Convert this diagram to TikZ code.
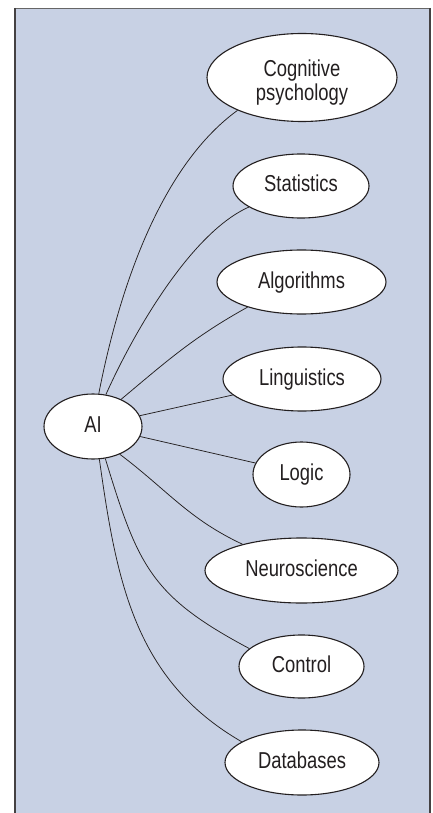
\documentclass[tikz,border=0pt]{standalone}
\usepackage{fontspec}
\setmainfont{Liberation Sans}[FakeStretch=0.8]
\usetikzlibrary{shapes.geometric}
\definecolor{panel}{RGB}{200,209,228}
\definecolor{ink}{RGB}{35,31,32}
\begin{document}
\begin{tikzpicture}[x=1pt,y=1pt,
  topic/.style={ellipse, draw=ink, line width=1.1pt, fill=white, inner sep=0pt,
    text=ink, font=\fontsize{23}{24}\selectfont, align=center},
  oneline/.style={text height=12pt, text depth=0pt},
  link/.style={draw=ink, line width=0.75pt}]
\useasboundingbox (0,0) rectangle (433,-813);
% panel
\fill[panel] (15,-8) rectangle (430,-813);
\draw[gray!80!black, line width=0.8pt] (15,-8) -- (430,-8);
\draw[ink!85, line width=1.6pt] (15,-8) -- (15,-813);
\draw[ink!85, line width=1.1pt] (430,-8) -- (430,-813);
% nodes
\node[topic, minimum width=190pt, minimum height=88pt] (cog) at (302,-77.5) {\rule{0pt}{26.7pt}Cognitive\\psychology};
\node[topic, oneline, minimum width=136pt, minimum height=64pt] (stat) at (301,-186) {Statistics};
\node[topic, oneline, minimum width=169pt, minimum height=64pt] (alg) at (301.5,-282) {Algorithms};
\node[topic, oneline, minimum width=158pt, minimum height=64pt] (ling) at (302,-379) {Linguistics};
\node[topic, oneline, minimum width=97pt, minimum height=65pt] (logic) at (301.5,-474.5) {Logic};
\node[topic, oneline, minimum width=193pt, minimum height=65pt] (neuro) at (301.5,-570.5) {Neuroscience};
\node[topic, oneline, minimum width=125pt, minimum height=63pt] (ctrl) at (301.5,-666.5) {Control};
\node[topic, oneline, minimum width=154pt, minimum height=65pt] (db) at (302,-762.5) {Databases};
\node[topic, oneline, minimum width=98pt, minimum height=65pt] (ai) at (93,-426.5) {AI};
% connectors
\draw[link] (ai.80) to[out=79, in=216, looseness=0.8] (cog.207);
\draw[link] (ai.68) to[out=66, in=204, looseness=0.7] (stat.202);
\draw[link] (ai.44) to[out=40, in=209] (alg.205);
\draw[link] (ai.13) -- (ling.193);
\draw[link] (ai.348) -- (logic.166);
\draw[link] (ai.314) to[out=-37, in=155] (neuro.156);
\draw[link] (ai.291) to[out=-73, in=152, looseness=1.2] (ctrl.161);
\draw[link] (ai.281) to[out=-82, in=150] (db.161);
\end{tikzpicture}
\end{document}
